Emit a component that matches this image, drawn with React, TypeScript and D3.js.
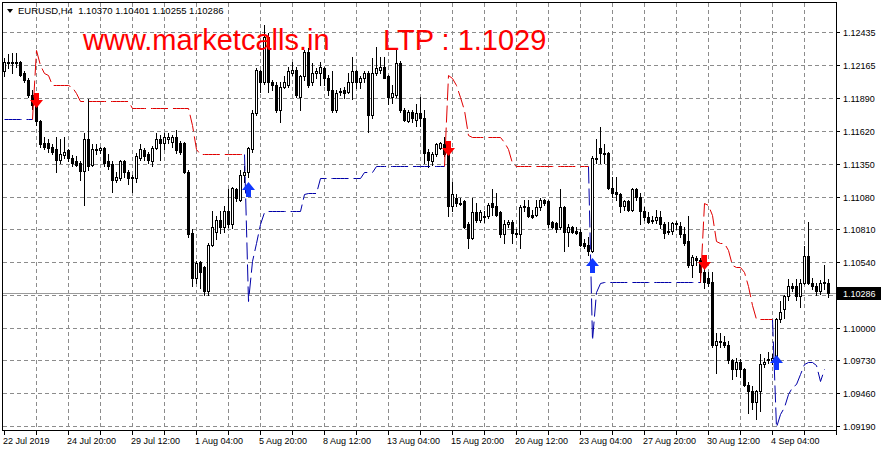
import React from "react";
import * as d3 from "d3";

// --- chart frame ---
const W = 883;
const H = 451;
const PLOT = { left: 2, right: 836, top: 2, bottom: 430 };
const FONT = "Liberation Sans, Arial, sans-serif";

// --- data ---
const SYMBOL = "EURUSD,H4";
const HEADER_OHLC = [1.1037, 1.10401, 1.10255, 1.10286];
const LAST_PRICE = 1.10286;
const LTP_TEXT = "LTP : 1.1029";
const SITE_TEXT = "www.marketcalls.in";

const PRICE_LABELS = [1.12435, 1.12165, 1.1189, 1.1162, 1.1135, 1.1108, 1.1081, 1.1054, 1.1, 1.0973, 1.0946, 1.0919];
const GRID_PRICES = [1.12435, 1.12165, 1.1189, 1.1162, 1.1135, 1.1108, 1.1081, 1.1054, 1.1027, 1.1, 1.0973, 1.0946, 1.0919];

const DATE_LABELS = [
  "22 Jul 2019", "24 Jul 20:00", "29 Jul 12:00", "1 Aug 04:00", "5 Aug 20:00", "8 Aug 12:00",
  "13 Aug 04:00", "15 Aug 20:00", "20 Aug 12:00", "23 Aug 04:00", "27 Aug 20:00", "30 Aug 12:00", "4 Sep 04:00",
];
const LABEL_EVERY = 16; // bars between date labels
const TICK_EVERY = 8; // bars between grid lines

// open, high, low, close per H4 bar
const OHLC: [number, number, number, number][] = [
  [1.1211, 1.1222, 1.1207, 1.1219], [1.1219, 1.1225, 1.1214, 1.1218], [1.1219, 1.1226, 1.121, 1.1218],
  [1.1218, 1.1226, 1.1215, 1.1219], [1.1219, 1.122, 1.1207, 1.1208], [1.121, 1.1211, 1.1202, 1.1204],
  [1.1204, 1.1206, 1.119, 1.1192], [1.1192, 1.1196, 1.118, 1.1183], [1.1184, 1.1188, 1.1167, 1.117],
  [1.117, 1.1171, 1.1149, 1.1151],
  [1.1152, 1.1157, 1.1147, 1.1149], [1.1152, 1.1155, 1.1145, 1.1148], [1.1149, 1.1151, 1.1143, 1.1145],
  [1.1147, 1.1157, 1.1128, 1.1138], [1.1138, 1.1155, 1.1136, 1.1143], [1.1142, 1.1157, 1.114, 1.1145],
  [1.1146, 1.1147, 1.1137, 1.114], [1.114, 1.1142, 1.1133, 1.1136], [1.1137, 1.1141, 1.1133, 1.1134],
  [1.1136, 1.1137, 1.1122, 1.1129],
  [1.1129, 1.116, 1.1101, 1.1155], [1.1155, 1.1188, 1.113, 1.1133], [1.1134, 1.1151, 1.1133, 1.1147],
  [1.1147, 1.1151, 1.1143, 1.1146], [1.1146, 1.1149, 1.1144, 1.1148], [1.1148, 1.1149, 1.1133, 1.1136],
  [1.1137, 1.1143, 1.1131, 1.1133], [1.1135, 1.1137, 1.1112, 1.1122], [1.1122, 1.1128, 1.112, 1.1124],
  [1.1123, 1.1138, 1.1122, 1.1137],
  [1.1137, 1.1138, 1.1124, 1.1128], [1.1128, 1.113, 1.1118, 1.1123], [1.1124, 1.1126, 1.1112, 1.1123],
  [1.1123, 1.1144, 1.112, 1.1141], [1.114, 1.1151, 1.1138, 1.1147], [1.1146, 1.1148, 1.1138, 1.1141],
  [1.1143, 1.1145, 1.1136, 1.1138], [1.1137, 1.115, 1.1133, 1.1148], [1.1148, 1.116, 1.1147, 1.1155],
  [1.1155, 1.1159, 1.1138, 1.1152],
  [1.1152, 1.116, 1.1147, 1.1157], [1.1155, 1.116, 1.1152, 1.1157], [1.1153, 1.1159, 1.1149, 1.1157],
  [1.1157, 1.1163, 1.1144, 1.1146], [1.1152, 1.1154, 1.1143, 1.1145], [1.1152, 1.1153, 1.1127, 1.1128],
  [1.1128, 1.113, 1.1075, 1.1077], [1.1078, 1.1081, 1.1034, 1.1041], [1.1041, 1.1055, 1.1037, 1.1053],
  [1.1054, 1.1055, 1.1033, 1.1046],
  [1.105, 1.1051, 1.1027, 1.103], [1.103, 1.107, 1.1027, 1.1068], [1.1068, 1.1096, 1.1067, 1.1083],
  [1.1079, 1.1092, 1.1073, 1.1089], [1.1089, 1.1096, 1.1078, 1.1083], [1.1083, 1.11, 1.1079, 1.1096],
  [1.1096, 1.1114, 1.1083, 1.1085], [1.1085, 1.1116, 1.1082, 1.1115], [1.1114, 1.1115, 1.1104, 1.1107],
  [1.1105, 1.113, 1.1104, 1.1126],
  [1.1126, 1.1133, 1.112, 1.1128], [1.1128, 1.1149, 1.1124, 1.1148], [1.1147, 1.1179, 1.1145, 1.1177],
  [1.1177, 1.1214, 1.1175, 1.1212], [1.1211, 1.1212, 1.1194, 1.1202], [1.1202, 1.1249, 1.1201, 1.1239],
  [1.1239, 1.1243, 1.1194, 1.1202], [1.1202, 1.1204, 1.1196, 1.12], [1.12, 1.1202, 1.1178, 1.1179],
  [1.1179, 1.1202, 1.1169, 1.1198],
  [1.1198, 1.1207, 1.1197, 1.1202], [1.12, 1.1215, 1.1198, 1.1211], [1.121, 1.1219, 1.1208, 1.1212],
  [1.1212, 1.1215, 1.119, 1.1192], [1.119, 1.1208, 1.1179, 1.1207], [1.1207, 1.1229, 1.1204, 1.1227],
  [1.1227, 1.123, 1.1198, 1.12], [1.1202, 1.1218, 1.12, 1.121], [1.121, 1.1214, 1.1206, 1.1211],
  [1.121, 1.1219, 1.12, 1.1215],
  [1.1214, 1.1215, 1.12, 1.1206], [1.1206, 1.1208, 1.1192, 1.1196], [1.1196, 1.1211, 1.1178, 1.1179],
  [1.1179, 1.1196, 1.1178, 1.1193], [1.1194, 1.1197, 1.1192, 1.1195], [1.1196, 1.1198, 1.1189, 1.1193],
  [1.1194, 1.121, 1.1193, 1.1202], [1.1202, 1.1223, 1.1188, 1.1211], [1.1211, 1.1212, 1.1197, 1.1202],
  [1.1202, 1.1207, 1.1197, 1.1206],
  [1.1206, 1.1211, 1.1202, 1.121], [1.121, 1.1211, 1.1161, 1.1175], [1.1175, 1.1222, 1.1173, 1.121],
  [1.121, 1.1231, 1.1208, 1.1214], [1.1212, 1.1223, 1.121, 1.1215], [1.1215, 1.1223, 1.1206, 1.1206],
  [1.1207, 1.1208, 1.1184, 1.119], [1.119, 1.12, 1.1185, 1.1193], [1.1192, 1.123, 1.119, 1.1218],
  [1.1218, 1.122, 1.1178, 1.1179],
  [1.1179, 1.1181, 1.117, 1.1171], [1.117, 1.1179, 1.1169, 1.1178], [1.1178, 1.1179, 1.1169, 1.1173],
  [1.1171, 1.1184, 1.1166, 1.1177], [1.1177, 1.119, 1.1166, 1.1173], [1.1173, 1.1179, 1.1136, 1.1144],
  [1.1145, 1.1147, 1.1132, 1.1138], [1.1137, 1.1145, 1.1134, 1.1143], [1.1143, 1.1152, 1.1141, 1.1151],
  [1.1148, 1.1153, 1.1147, 1.1152],
  [1.1151, 1.1157, 1.1141, 1.1143], [1.1143, 1.1149, 1.1092, 1.11], [1.11, 1.112, 1.1096, 1.111],
  [1.1107, 1.111, 1.11, 1.1103], [1.1103, 1.1107, 1.1101, 1.1102], [1.1104, 1.1105, 1.1082, 1.1083],
  [1.1085, 1.1087, 1.1066, 1.1074], [1.1074, 1.1107, 1.1073, 1.1095], [1.1095, 1.1103, 1.1087, 1.1089],
  [1.1089, 1.1097, 1.1087, 1.1095],
  [1.1092, 1.1096, 1.1087, 1.1091], [1.1092, 1.1103, 1.109, 1.1101], [1.1103, 1.1114, 1.1093, 1.1099],
  [1.11, 1.1111, 1.1092, 1.1093], [1.1095, 1.1096, 1.1075, 1.1077], [1.1077, 1.1089, 1.107, 1.1085],
  [1.1085, 1.1089, 1.1083, 1.1087], [1.1087, 1.1089, 1.107, 1.1078], [1.1078, 1.1081, 1.1075, 1.1077],
  [1.1077, 1.1101, 1.1066, 1.1099],
  [1.11, 1.1105, 1.1096, 1.1099], [1.1099, 1.1105, 1.1091, 1.1092], [1.1093, 1.1097, 1.109, 1.1091],
  [1.1093, 1.1105, 1.1092, 1.1099], [1.1099, 1.1107, 1.1097, 1.1105], [1.1105, 1.1106, 1.1101, 1.1103],
  [1.1104, 1.1105, 1.1083, 1.1085], [1.1087, 1.1088, 1.1082, 1.1083], [1.1086, 1.1087, 1.1079, 1.1081],
  [1.1083, 1.1114, 1.1081, 1.1099],
  [1.1099, 1.11, 1.1063, 1.1079], [1.1079, 1.1085, 1.1067, 1.1083], [1.1083, 1.1084, 1.1078, 1.1079],
  [1.108, 1.1083, 1.1077, 1.1078], [1.1079, 1.1081, 1.1067, 1.1068], [1.107, 1.1073, 1.1066, 1.1067],
  [1.1068, 1.1075, 1.106, 1.1063], [1.1063, 1.1141, 1.1062, 1.114], [1.114, 1.1155, 1.1136, 1.1139],
  [1.1148, 1.1165, 1.1136, 1.1144],
  [1.1144, 1.1151, 1.1136, 1.1143], [1.1144, 1.1145, 1.1114, 1.1115], [1.1115, 1.1124, 1.1108, 1.1111],
  [1.1112, 1.1124, 1.1105, 1.111], [1.111, 1.1111, 1.1095, 1.11], [1.11, 1.1105, 1.1097, 1.1104],
  [1.1104, 1.1105, 1.1096, 1.1097], [1.1097, 1.1115, 1.1096, 1.1114], [1.1114, 1.1115, 1.1105, 1.1108],
  [1.1108, 1.1111, 1.1085, 1.1096],
  [1.1096, 1.1099, 1.1089, 1.1091], [1.1091, 1.1095, 1.1086, 1.1087], [1.1088, 1.1092, 1.1086, 1.1089],
  [1.1089, 1.1097, 1.1086, 1.1091], [1.1091, 1.1096, 1.1082, 1.1085], [1.1085, 1.1087, 1.1074, 1.1078],
  [1.1079, 1.1087, 1.1077, 1.108], [1.108, 1.1087, 1.1077, 1.1086], [1.1086, 1.1088, 1.1081, 1.1085],
  [1.1084, 1.1087, 1.1075, 1.1077],
  [1.1077, 1.1083, 1.1068, 1.107], [1.1071, 1.1092, 1.105, 1.1052], [1.1052, 1.106, 1.1042, 1.1058],
  [1.1057, 1.1059, 1.1052, 1.1056], [1.1056, 1.1057, 1.1038, 1.1046], [1.1046, 1.1048, 1.1033, 1.1038],
  [1.1041, 1.1046, 1.1034, 1.1037], [1.1038, 1.1046, 1.0984, 1.0986], [1.0986, 1.0996, 1.0963, 1.0989],
  [1.0989, 1.0996, 1.0984, 1.0988],
  [1.0988, 1.0993, 1.0984, 1.0986], [1.0986, 1.0989, 1.0971, 1.0973], [1.0973, 1.0974, 1.0958, 1.0966],
  [1.0966, 1.0975, 1.096, 1.0972], [1.0972, 1.0974, 1.0959, 1.0966], [1.0966, 1.0967, 1.0952, 1.0953],
  [1.0953, 1.0955, 1.093, 1.0948], [1.0948, 1.0952, 1.0933, 1.0939], [1.0939, 1.0949, 1.0925, 1.0948],
  [1.0948, 1.0978, 1.0931, 1.097],
  [1.097, 1.0975, 1.0968, 1.0972], [1.0973, 1.098, 1.0971, 1.0974], [1.0973, 1.0978, 1.097, 1.0975],
  [1.0974, 1.1008, 1.0972, 1.1007], [1.1007, 1.1022, 1.1005, 1.1013], [1.1015, 1.1027, 1.1008, 1.1026],
  [1.1026, 1.104, 1.1023, 1.1034], [1.1034, 1.1037, 1.103, 1.1033], [1.1034, 1.104, 1.1023, 1.1026],
  [1.1026, 1.104, 1.1017, 1.1037],
  [1.1037, 1.1067, 1.1036, 1.1059], [1.1059, 1.1087, 1.1036, 1.1037], [1.1037, 1.1041, 1.1032, 1.1034],
  [1.1034, 1.1037, 1.1027, 1.103], [1.103, 1.1039, 1.1028, 1.1037], [1.1037, 1.1052, 1.1032, 1.1038],
  [1.1037, 1.10401, 1.10255, 1.10286],
];

// trailing stop legs: first bar index + value per bar
const BLUE_LEGS = [
  { start: 0, values: [1.1172, 1.1172, 1.1172, 1.1172, 1.1172, 1.1172, 1.1172, 1.1172] },
  {
    start: 60,
    values: [
      1.1143, 1.1022, 1.1055, 1.107, 1.1085, 1.1095,
      1.1096, 1.1096, 1.1096, 1.1096, 1.1096, 1.1096, 1.1096, 1.1096, 1.1096,
      1.111, 1.1111, 1.1111, 1.1111,
      1.1123, 1.1123, 1.1123, 1.1123, 1.1123, 1.1123, 1.1123, 1.1123, 1.1123, 1.1123, 1.1123,
      1.1128, 1.1128, 1.1128,
      1.1133, 1.1133, 1.1133, 1.1133, 1.1133, 1.1133, 1.1133, 1.1133, 1.1133,
      1.1133, 1.1133, 1.1133, 1.1133, 1.1133, 1.1133, 1.1133, 1.1133, 1.1133,
    ],
  },
  {
    start: 146,
    values: [
      1.1133, 1.099, 1.1029, 1.1037,
      1.1038, 1.1038, 1.1038, 1.1038, 1.1038, 1.1038, 1.1038, 1.1038, 1.1038, 1.1038, 1.1038, 1.1038, 1.1038,
      1.1038, 1.1038, 1.1038, 1.1038, 1.1038, 1.1038, 1.1038, 1.1038, 1.1038, 1.1038, 1.1038, 1.1038,
    ],
  },
  {
    start: 192,
    values: [1.1007, 1.0918, 1.0929, 1.0935, 1.0945, 1.0951, 1.0954, 1.0962, 1.097, 1.0972, 1.0972, 1.0969, 1.0956, 1.0966],
  },
];

const RED_LEGS = [
  {
    start: 7,
    values: [
      1.1172, 1.1229, 1.1216, 1.121, 1.1208,
      1.12, 1.12, 1.12, 1.12, 1.12,
      1.1198, 1.1193,
      1.1187, 1.1187, 1.1187, 1.1187, 1.1187, 1.1187, 1.1187, 1.1187, 1.1187, 1.1187, 1.1187, 1.1187, 1.1187,
      1.1181, 1.1181, 1.1181, 1.1181, 1.1181, 1.1181, 1.1181, 1.1181, 1.1181, 1.1181, 1.1181, 1.1181, 1.1181,
      1.1181, 1.1181,
      1.1167, 1.1147,
      1.1143, 1.1143, 1.1143, 1.1143, 1.1143, 1.1143, 1.1143, 1.1143, 1.1143, 1.1143, 1.1143, 1.1143,
    ],
  },
  {
    start: 110,
    values: [
      1.1133, 1.1208, 1.1206, 1.12, 1.119, 1.1179, 1.1159,
      1.1157, 1.1157, 1.1157, 1.1157, 1.1157, 1.1157, 1.1157, 1.1157,
      1.1153, 1.1147, 1.1136,
      1.1133, 1.1133, 1.1133, 1.1133, 1.1133, 1.1133, 1.1133, 1.1133, 1.1133, 1.1133,
      1.1133, 1.1133, 1.1133, 1.1133, 1.1133, 1.1133, 1.1133, 1.1133, 1.1133,
    ],
  },
  {
    start: 174,
    values: [
      1.1038, 1.1103, 1.1101, 1.1093, 1.1071, 1.107, 1.107, 1.1064, 1.1052, 1.105, 1.105, 1.1046, 1.1034,
      1.1019, 1.1007, 1.1007, 1.1007, 1.1007, 1.1007,
    ],
  },
];

// signal arrows: bar index and price of the arrow centre
const SELL_BARS = [8, 111, 175];
const SELL_PRICES = [1.1187, 1.1147, 1.1053];
const BUY_BARS = [61, 147, 193];
const BUY_PRICES = [1.1114, 1.1052, 1.0972];

const RED = "#e00000";
const BLUE = "#0000a8";
const GRID = "#8c8c8c";

const fmt = (v: number) => v.toFixed(5);

export default function App() {
  const x = d3.scaleLinear().domain([0, OHLC.length - 1]).range([4, 4 + 4 * (OHLC.length - 1)]);
  const y = d3.scaleLinear().domain([1.0919, 1.12435]).range([426, 32]);
  const py = (v: number) => Math.round(y(v));

  const legPath = (leg: { start: number; values: number[] }) =>
    d3
      .line<number>()
      .x((_, k) => x(leg.start + k) + 0.5)
      .y((v) => py(v) + 0.5)(leg.values) || "";

  const nBars = OHLC.length;
  const gridBars = d3.range(TICK_EVERY, nBars + 2, TICK_EVERY);
  const tickBars = d3.range(0, nBars + 2, TICK_EVERY);

  // thick wingdings-like arrows
  const downArrow = (cx: number, cy: number) =>
    `M${cx - 2.5},${cy - 8} h5 v7 h4 l-6.5,8 l-6.5,-8 h4 z`;
  const upArrow = (cx: number, cy: number) =>
    `M${cx - 2.5},${cy + 8} h5 v-7 h4 l-6.5,-8 l-6.5,8 h4 z`;

  const lastY = py(LAST_PRICE);

  return (
    <svg
      width={W}
      height={H}
      style={{ position: "absolute", left: 0, top: 0, background: "#fff" }}
      fontFamily={FONT}
    >
      <defs>
        <clipPath id="plot">
          <rect x={PLOT.left + 1} y={PLOT.top + 1} width={PLOT.right - PLOT.left - 1} height={PLOT.bottom - PLOT.top - 1} />
        </clipPath>
      </defs>
      <rect x={0} y={0} width={W} height={H} fill="#fff" />

      {/* grid */}
      <g stroke={GRID} strokeWidth={1} strokeDasharray="4,3" shapeRendering="crispEdges">
        {GRID_PRICES.map((p) => (
          <line key={"h" + p} x1={PLOT.left + 1} x2={PLOT.right} y1={py(p) + 0.5} y2={py(p) + 0.5} />
        ))}
        {gridBars.map((b) => (
          <line key={"v" + b} x1={x(b) + 0.5} x2={x(b) + 0.5} y1={PLOT.top + 1} y2={PLOT.bottom} />
        ))}
      </g>

      {/* last price line */}
      <line x1={PLOT.left} x2={PLOT.right} y1={lastY + 0.5} y2={lastY + 0.5} stroke="#9a9a9a" shapeRendering="crispEdges" />

      <g clipPath="url(#plot)">
        {/* candles */}
        <g shapeRendering="crispEdges">
          {OHLC.map(([o, h, l, c], i) => {
            const cx = Math.round(x(i));
            const yo = py(o);
            const yc = py(c);
            const top = Math.min(yo, yc);
            const bot = Math.max(yo, yc);
            const bull = c >= o;
            return (
              <g key={i}>
                <line x1={cx + 0.5} x2={cx + 0.5} y1={py(h)} y2={py(l) + 1} stroke="#000" />
                {bot - top < 1 ? (
                  <line x1={cx - 1} x2={cx + 2} y1={top + 0.5} y2={top + 0.5} stroke="#000" />
                ) : bull ? (
                  <rect x={cx - 0.5} y={top + 0.5} width={2} height={bot - top} fill="#fff" stroke="#000" />
                ) : (
                  <rect x={cx - 1} y={top} width={3} height={bot - top + 1} fill="#000" />
                )}
              </g>
            );
          })}
        </g>

        {/* trailing stop lines */}
        <g fill="none" strokeWidth={1} strokeDasharray="17,5">
          {BLUE_LEGS.map((leg, k) => (
            <path key={"b" + k} d={legPath(leg)} stroke={BLUE} />
          ))}
          {RED_LEGS.map((leg, k) => (
            <path key={"r" + k} d={legPath(leg)} stroke={RED} />
          ))}
        </g>

        {/* arrows */}
        {SELL_BARS.map((b, k) => (
          <path key={"s" + k} d={downArrow(x(b) + 0.5, py(SELL_PRICES[k]))} fill="#ff0000" />
        ))}
        {BUY_BARS.map((b, k) => (
          <path key={"u" + k} d={upArrow(x(b) + 0.5, py(BUY_PRICES[k]))} fill="#1038ff" />
        ))}
      </g>

      {/* frame */}
      <g stroke="#000" strokeWidth={1} fill="none" shapeRendering="crispEdges">
        <line x1={PLOT.left + 0.5} x2={PLOT.left + 0.5} y1={PLOT.top} y2={PLOT.bottom + 1} />
        <line x1={PLOT.right + 0.5} x2={PLOT.right + 0.5} y1={PLOT.top} y2={PLOT.bottom + 1} />
        <line x1={PLOT.left} x2={PLOT.right + 1} y1={PLOT.bottom + 0.5} y2={PLOT.bottom + 0.5} />
        <line x1={PLOT.left} x2={PLOT.right + 1} y1={PLOT.top + 0.5} y2={PLOT.top + 0.5} />
      </g>

      {/* right price axis */}
      <g fontSize={9} fill="#000">
        {PRICE_LABELS.map((p) => (
          <g key={"p" + p}>
            <line x1={PLOT.right} x2={PLOT.right + 4} y1={py(p) + 0.5} y2={py(p) + 0.5} stroke="#000" shapeRendering="crispEdges" />
            <text x={843} y={py(p) + 3.5}>
              {fmt(p)}
            </text>
          </g>
        ))}
        <rect x={837} y={lastY - 6} width={44} height={13} fill="#000" />
        <text x={843} y={lastY + 4} fill="#fff">
          {fmt(LAST_PRICE)}
        </text>
      </g>

      {/* bottom time axis */}
      <g fontSize={9} fill="#000">
        {tickBars.map((b) => (
          <line key={"t" + b} x1={x(b) + 0.5} x2={x(b) + 0.5} y1={PLOT.bottom} y2={PLOT.bottom + 5} stroke="#000" shapeRendering="crispEdges" />
        ))}
        {DATE_LABELS.map((lab, k) => (
          <text key={lab} x={x(k * LABEL_EVERY) - 1} y={444}>
            {lab}
          </text>
        ))}
      </g>

      {/* header */}
      <path d="M7,9 L13,9 L10,13 Z" fill="#000" />
      <text x={18} y={14} fontSize={9.5} fill="#000" style={{ whiteSpace: "pre" }}>
        {SYMBOL + "  " + HEADER_OHLC.map(fmt).join(" ")}
      </text>

      {/* watermark texts */}
      <text x={83} y={50} fontSize={29} fill="#ff0000">
        {SITE_TEXT}
      </text>
      <text x={383} y={50} fontSize={29} fill="#ff0000" style={{ whiteSpace: "pre" }}>
        {LTP_TEXT}
      </text>
    </svg>
  );
}
